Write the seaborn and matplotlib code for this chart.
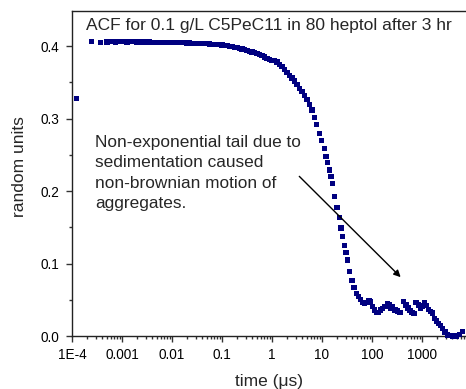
import matplotlib
matplotlib.use("Agg")
import matplotlib.pyplot as plt
import matplotlib.ticker as mticker
import seaborn as sns
import pandas as pd

# ---- data (time in microseconds, ACF value) ----
t_early = [0.000125, 0.00025, 0.000375, 0.0005, 0.000625, 0.00075, 0.000875]
v_early = [0.328, 0.406, 0.4055, 0.4058, 0.4060, 0.4058, 0.4060]

t_flat = [0.001, 0.00112, 0.00126, 0.00141, 0.00158, 0.00178, 0.002, 0.00224, 0.00251, 0.00282,
          0.00316, 0.00355, 0.00398, 0.00447, 0.00501, 0.00562, 0.00631, 0.00708, 0.00794, 0.00891,
          0.01, 0.0112, 0.0126, 0.0141, 0.0158, 0.0178, 0.02, 0.0224, 0.0251, 0.0282,
          0.0316, 0.0355, 0.0398, 0.0447, 0.0501, 0.0562, 0.0631, 0.0708, 0.0794, 0.0891,
          0.1, 0.112, 0.126, 0.141, 0.158, 0.178, 0.2, 0.224, 0.251, 0.282,
          0.316, 0.355, 0.398, 0.447, 0.501, 0.562, 0.631, 0.708, 0.794, 0.891,
          1.0, 1.12, 1.26, 1.41, 1.58, 1.78, 2.0, 2.24, 2.51, 2.82,
          3.16, 3.55, 3.98, 4.47, 5.01, 5.62, 6.31, 7.08]
v_flat = [0.4060, 0.4062, 0.4058, 0.4061, 0.4059, 0.4060, 0.4057, 0.4058, 0.4056, 0.4057,
          0.4055, 0.4056, 0.4054, 0.4055, 0.4053, 0.4054, 0.4052, 0.4053, 0.4051, 0.4051,
          0.4050, 0.4049, 0.4048, 0.4047, 0.4046, 0.4045, 0.4044, 0.4043, 0.4041, 0.4040,
          0.4038, 0.4037, 0.4035, 0.4033, 0.4031, 0.4029, 0.4027, 0.4024, 0.4021, 0.4018,
          0.4015, 0.4010, 0.4005, 0.3999, 0.3993, 0.3986, 0.3978, 0.3970, 0.3961, 0.3952,
          0.3942, 0.3931, 0.3920, 0.3908, 0.3895, 0.3881, 0.3866, 0.3851, 0.3835, 0.3818,
          0.380, 0.380, 0.378, 0.375, 0.372, 0.368, 0.364, 0.360, 0.356, 0.352,
          0.347, 0.342, 0.337, 0.332, 0.326, 0.320, 0.312, 0.302]

t_tail = [7.83, 8.99, 9.77, 11.07, 12.0, 13.1, 14.1, 15.1, 16.1, 18.0,
          20.0, 22.2, 24.0, 25.9, 27.9, 30.2, 32.7, 35.8, 39.8, 43.7,
          49.4, 54.2, 59.4, 65.2, 71.4, 78.3, 87.1, 94.2, 101, 111,
          124, 136, 149, 164, 182, 202, 219, 237, 259, 288,
          327, 363, 424, 479, 525, 575, 631, 692, 759, 840,
          923, 1010, 1110, 1220, 1340, 1470, 1610, 1770, 1940, 2130,
          2340, 2600, 2890, 3250, 3630, 4170, 4790, 5580, 6520]
v_tail = [0.292, 0.280, 0.270, 0.259, 0.248, 0.239, 0.229, 0.220, 0.210, 0.192,
          0.1775, 0.163, 0.149, 0.137, 0.125, 0.115, 0.105, 0.089, 0.0765, 0.0674,
          0.059, 0.054, 0.050, 0.0466, 0.0443, 0.046, 0.0488, 0.047, 0.0405, 0.036,
          0.0322, 0.0322, 0.036, 0.0383, 0.0405, 0.0452, 0.0429, 0.0378, 0.0405, 0.036,
          0.0346, 0.0325, 0.0474, 0.0429, 0.0387, 0.035, 0.0325, 0.0314, 0.046, 0.0429,
          0.038, 0.0415, 0.0456, 0.0422, 0.0367, 0.0339, 0.0318, 0.0242, 0.0207, 0.0173,
          0.0145, 0.0106, 0.0055, 0.0014, 0.0007, 0.0, 0.0, 0.002, 0.006]

xtick_vals = [1e-4, 1e-3, 1e-2, 1e-1, 1, 10, 100, 1000]
xtick_labels = ["1E-4", "0.001", "0.01", "0.1", "1", "10", "100", "1000"]
ytick_vals = [0.0, 0.1, 0.2, 0.3, 0.4]
ytick_labels = ["0.0", "0.1", "0.2", "0.3", "0.4"]

title_text = "ACF for 0.1 g/L C5PeC11 in 80 heptol after 3 hr"
note_text = "Non-exponential tail due to\nsedimentation caused\nnon-brownian motion of\naggregates."
arrow_start = (3.52, 0.2203)
arrow_end = (375, 0.0812)

df = pd.DataFrame({"time": t_early + t_flat + t_tail,
                   "acf": v_early + v_flat + v_tail})

# ---- plot ----
sns.set_style("ticks")
plt.rcParams["font.family"] = ["Liberation Sans", "DejaVu Sans"]

fig = plt.figure(figsize=(4.66, 3.89), dpi=100)
ax = fig.add_axes([72 / 466, 1 - 336 / 389, 1 - 72 / 466, (336 - 11) / 389])

sns.scatterplot(data=df, x="time", y="acf", ax=ax, marker="s", s=14,
                color="#000080", edgecolor="none", linewidth=0, zorder=3, clip_on=False)

ax.set_xscale("log")
ax.set_xlim(1e-4, 7600)
ax.set_ylim(0.0, 0.4485)

ax.set_xticks(xtick_vals)
ax.set_xticklabels(xtick_labels)
ax.xaxis.set_minor_locator(mticker.LogLocator(base=10, subs=range(2, 10), numticks=20))
ax.xaxis.set_minor_formatter(mticker.NullFormatter())
ax.set_yticks(ytick_vals)
ax.set_yticklabels(ytick_labels)
ax.yaxis.set_minor_locator(mticker.MultipleLocator(0.05))

ax.tick_params(which="major", direction="out", length=4.2, width=1, colors="#333333",
               labelcolor="black", labelsize=9.8)
ax.tick_params(axis="x", which="major", pad=4.2)
ax.tick_params(axis="y", which="major", pad=4.8)
ax.tick_params(which="minor", direction="out", length=2.5, width=1, colors="#333333")
for side in ["left", "bottom", "top"]:
    ax.spines[side].set_linewidth(1.0)
    ax.spines[side].set_color("#222222")
ax.spines["right"].set_visible(False)

ax.set_xlabel("time (μs)", fontsize=12.5, labelpad=9)
ax.set_ylabel("random units", fontsize=12.5, labelpad=9.5)
ax.yaxis.label.set_y(0.52)

ax.text(0.0355, 0.955, title_text, transform=ax.transAxes, fontsize=12.5,
        ha="left", va="center")
ax.text(0.058, 0.62, note_text, transform=ax.transAxes, fontsize=12.4,
        ha="left", va="top", linespacing=1.46)
ax.annotate("", xy=arrow_end, xytext=arrow_start,
            arrowprops=dict(arrowstyle="-|>", color="black", lw=1.0,
                            mutation_scale=10, shrinkA=0, shrinkB=0))

fig.savefig("out.png", dpi=100)
